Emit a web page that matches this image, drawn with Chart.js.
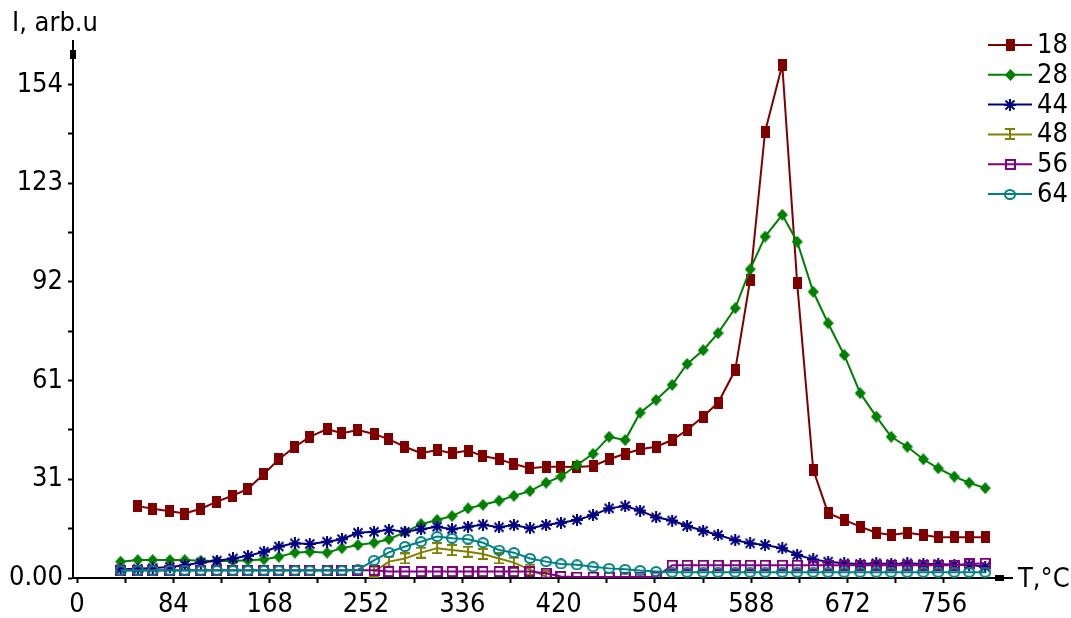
<!DOCTYPE html>
<html>
<head>
<meta charset="utf-8">
<script src="https://cdn.jsdelivr.net/npm/chart.js"></script>
<style>
  html, body { margin: 0; padding: 0; background: #fff; }
  #wrap { width: 1071px; height: 618px; }
</style>
</head>
<body>
<div id="wrap"><canvas id="chart" width="1071" height="618"></canvas></div>
<script>
// temperature grid (°C)
const temps = [38, 53, 66, 81, 94, 108, 122, 136, 149, 163, 176, 190, 203, 218, 231, 245, 259, 272, 286, 300,
  314, 327, 341, 354, 368, 381, 395, 409, 422, 436, 450, 464, 478, 491, 505, 519, 532, 546, 559, 574,
  587, 600, 615, 628, 642, 655, 669, 683, 697, 710, 724, 738, 751, 765, 778, 792];

const seriesNames = ['18', '28', '44', '48', '56', '64'];
const seriesColors = ['#800000', '#008000', '#000080', '#808000', '#800080', '#008080'];

// intensity per mass, arb.u
const m18 = [null, 22.4, 21.6, 20.8, 20.1, 21.6, 23.8, 25.7, 27.8, 32.4, 37, 40.9, 44, 46.4, 45.1, 46.1,
  44.9, 43.2, 40.9, 38.9, 39.9, 38.9, 39.7, 38, 37, 35.5, 34.2, 34.7, 34.7, 34.6, 34.9,
  37, 38.7, 40.1, 40.9, 43, 46.1, 50.3, 54.6, 64.8, 92.9, 139.1, 159.9, 91.9, 33.7, 20.2,
  18.1, 16, 14.1, 13.4, 14.1, 13.4, 12.7, 12.7, 12.7, 12.7];
const m28 = [5.1, 5.6, 5.6, 5.6, 5.6, 5.4, 5.3, 5.3, 5.5, 5.8, 6.6, 7.9, 8.2, 7.9, 9.3,
  10.3, 11, 12.1, 14.3, 16.8, 18.1, 19.3, 21.7, 22.8, 24.1, 25.6, 27.1, 29.7, 31.6, 35.2,
  38.7, 44, 43, 51.5, 55.5, 60.2, 66.7, 71, 76.3, 84.1, 96.2, 106.4, 113.2, 104.8, 89.2,
  79.4, 69.5, 57.6, 50.3, 44, 40.9, 37, 34.2, 31.6, 29.7, 28];
const m44 = [2.7, 2.9, 3.1, 3.4, 4.0, 4.8, 5.4, 6.1, 6.9, 8.2, 9.8, 10.8, 10.6, 11.3, 12.1,
  14.1, 14.4, 15, 14.4, 15.2, 16, 15.2, 16, 16.6, 15.8, 16.5, 15.5, 16.5, 17.2, 18.1,
  19.6, 21.7, 22.4, 21, 18.9, 17.9, 16.2, 14.7, 13.4, 11.8, 10.8, 10.3, 9.3, 7.2, 5.8,
  5.1, 4.6, 4.4, 4.6, 4.4, 4.6, 4.4, 4.4, 4.1, 4.1, 3.5];
const m48 = [null, null, null, null, null, null, null, null, null, null, null, null, null, null, null,
  null, 2.0, 5.1, 6.1, 7.9, 9.3, 8.7, 8.2, 7.5, 6.1, 4.8, 2.6, 0.5, null, null,
  null, null, null, null, null, null, null, null, null, null, null, null, null, null, null,
  null, null, null, null, null, null, null, null, null, null, null];
const m56 = [2.4, 2.4, 2.4, 2.4, 2.4, 2.4, 2.4, 2.4, 2.4, 2.4, 2.4, 2.4, 2.4, 2.4, 2.4,
  2.4, 2.4, 2.0, 2.0, 2.0, 2.0, 2.0, 2.0, 2.0, 2.0, 2.0, 2.0, 1.5, 0.5, 0.3,
  0.3, 0.3, 0.3, 0.3, 0.3, 4.0, 4.0, 4.0, 4.0, 4.0, 4.0, 4.0, 4.0, 4.0, 4.0,
  4.0, 4.0, 4.0, 4.0, 4.0, 4.0, 4.0, 4.0, 4.0, 4.4, 4.6];
const m64 = [2.3, 2.3, 2.3, 2.3, 2.3, 2.3, 2.3, 2.3, 2.3, 2.3, 2.3, 2.3, 2.3, 2.3, 2.3,
  2.6, 5.5, 8.0, 9.8, 11.3, 12.9, 12.4, 12.1, 11, 8.7, 7.9, 6.1, 5.1, 4.4, 4.1,
  3.5, 3.0, 2.7, 2.3, 2.0, 1.8, 1.8, 1.8, 1.8, 1.8, 1.8, 1.8, 1.8, 1.8, 1.8,
  1.8, 1.8, 1.8, 1.8, 1.8, 1.8, 1.8, 1.8, 1.8, 1.8, 1.8];
const seriesValues = [m18, m28, m44, m48, m56, m64];

// axis ticks
const xTickValues = [0, 42, 84, 126, 168, 210, 252, 294, 336, 378, 420, 462, 504, 546, 588, 630, 672, 714, 756];
const xTickLabels = ['0', '', '84', '', '168', '', '252', '', '336', '', '420', '', '504', '', '588', '', '672', '', '756'];
const yTickValues = [0, 15.375, 30.75, 46.125, 61.5, 76.875, 92.25, 107.625, 123, 138.375, 153.75];
const yTickLabels = ['0.00', '', '31', '', '61', '', '92', '', '123', '', '154'];

const FONT = "'DejaVu Sans Condensed', 'Liberation Sans Narrow', sans-serif";
const FONT_SIZE = 27;

// маркеры рисуем на маленьких канвасах
function makeMarker(w, h, draw) {
    const c = document.createElement('canvas');
    c.width = w; c.height = h;
    draw(c.getContext('2d'), w, h);
    return c;
}

const markers = [
    makeMarker(9, 12, (g, w, h) => { g.fillStyle = seriesColors[0]; g.fillRect(0, 0, w, h); }),
    makeMarker(11, 12, (g, w, h) => {
        g.fillStyle = seriesColors[1];
        g.beginPath(); g.moveTo(w / 2, 0); g.lineTo(w, h / 2); g.lineTo(w / 2, h); g.lineTo(0, h / 2); g.closePath(); g.fill();
    }),
    makeMarker(12, 12, (g, w, h) => {
        g.strokeStyle = seriesColors[2]; g.lineWidth = 2;
        g.beginPath();
        g.moveTo(w / 2, 0); g.lineTo(w / 2, h);
        g.moveTo(0, h / 2); g.lineTo(w, h / 2);
        g.moveTo(1.5, 1.5); g.lineTo(w - 1.5, h - 1.5);
        g.moveTo(w - 1.5, 1.5); g.lineTo(1.5, h - 1.5);
        g.stroke();
    }),
    makeMarker(10, 12, (g, w, h) => {
        g.strokeStyle = seriesColors[3]; g.lineWidth = 2;
        g.beginPath();
        g.moveTo(0, 1); g.lineTo(w, 1);
        g.moveTo(w / 2, 1); g.lineTo(w / 2, h - 1);
        g.moveTo(0, h - 1); g.lineTo(w, h - 1);
        g.stroke();
    }),
    makeMarker(11, 11, (g, w, h) => {
        g.strokeStyle = seriesColors[4]; g.lineWidth = 2;
        g.strokeRect(1, 1, w - 2, h - 2);
    }),
    makeMarker(12, 11, (g, w, h) => {
        g.strokeStyle = seriesColors[5]; g.lineWidth = 2;
        g.beginPath(); g.ellipse(w / 2, h / 2, w / 2 - 1, h / 2 - 1, 0, 0, Math.PI * 2); g.stroke();
    })
];

const datasets = seriesNames.map((name, i) => ({
    label: name,
    data: temps.map((t, j) => ({ x: t, y: seriesValues[i][j] })),
    borderColor: seriesColors[i],
    backgroundColor: seriesColors[i],
    borderWidth: 2,
    pointStyle: markers[i],
    pointRadius: 5,
    tension: 0,
    spanGaps: false,
    order: seriesNames.length - i
}));

// оси со стрелками, подписи осей и легенда
const decorPlugin = {
    id: 'decor',
    afterDraw(chart) {
        const ctx = chart.ctx;
        const ca = chart.chartArea;
        ctx.save();
        ctx.strokeStyle = '#000';
        ctx.fillStyle = '#000';
        ctx.lineWidth = 2;
        ctx.beginPath();
        ctx.moveTo(ca.left, ca.top); ctx.lineTo(ca.left, 40);
        ctx.moveTo(ca.right, ca.bottom); ctx.lineTo(1013, ca.bottom);
        ctx.stroke();
        ctx.fillRect(ca.left - 3, 50, 6, 9);
        ctx.fillRect(995, ca.bottom - 3, 9, 6);

        ctx.font = FONT_SIZE + 'px ' + FONT;
        ctx.textBaseline = 'middle';
        ctx.textAlign = 'left';
        ctx.fillText('I, arb.u', 12, 24);
        ctx.fillText('T,°C', 1018, 580);

        // legend
        seriesNames.forEach((name, i) => {
            const y = 45 + i * 29.8;
            ctx.strokeStyle = seriesColors[i];
            ctx.beginPath(); ctx.moveTo(988, y); ctx.lineTo(1032, y); ctx.stroke();
            const m = markers[i];
            ctx.drawImage(m, Math.round(1010 - m.width / 2), Math.round(y - m.height / 2));
            ctx.fillStyle = '#000';
            ctx.fillText(name, 1037, y + 1);
        });
        ctx.restore();
    }
};

new Chart(document.getElementById('chart').getContext('2d'), {
    type: 'line',
    data: { datasets },
    options: {
        responsive: false,
        animation: false,
        layout: { padding: { left: 0, top: 54, right: 72, bottom: 0 } },
        plugins: {
            legend: { display: false },
            tooltip: { enabled: false }
        },
        scales: {
            x: {
                type: 'linear',
                min: -3.5,
                max: 804,
                afterBuildTicks: (s) => { s.ticks = xTickValues.map(v => ({ value: v })); },
                afterFit: (s) => { s.height = 40; },
                ticks: {
                    autoSkip: false, maxRotation: 0, minRotation: 0, padding: 6,
                    color: '#000', font: { family: FONT, size: FONT_SIZE },
                    callback: (v, i) => xTickLabels[i]
                },
                grid: { drawOnChartArea: false, drawTicks: true, tickLength: 5, tickColor: '#000', tickWidth: 2 },
                border: { display: true, color: '#000', width: 2 }
            },
            y: {
                min: 0,
                max: 163.3,
                afterBuildTicks: (s) => { s.ticks = yTickValues.map(v => ({ value: v })); },
                afterFit: (s) => { s.width = 73; },
                ticks: {
                    autoSkip: false, padding: 5,
                    color: '#000', font: { family: FONT, size: FONT_SIZE },
                    callback: (v, i) => yTickLabels[i]
                },
                grid: { drawOnChartArea: false, drawTicks: true, tickLength: 5, tickColor: '#000', tickWidth: 2 },
                border: { display: true, color: '#000', width: 2 }
            }
        }
    },
    plugins: [decorPlugin]
});
</script>
</body>
</html>
